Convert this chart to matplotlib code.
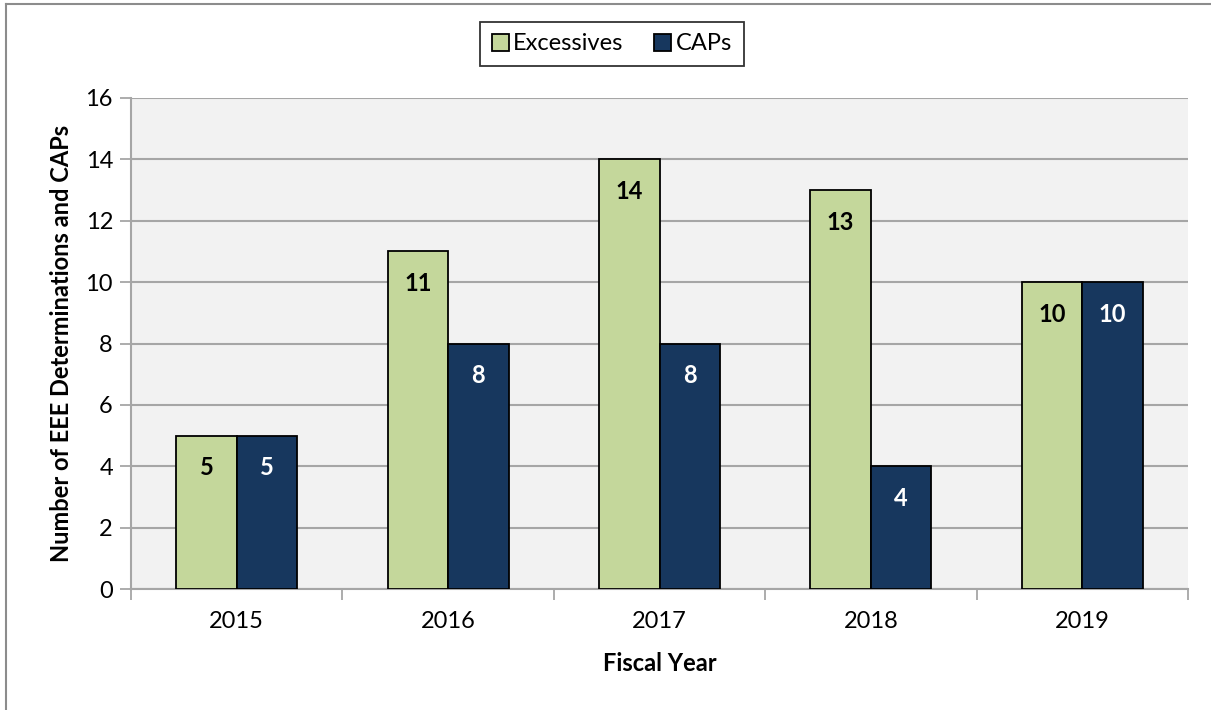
import numpy as np
import matplotlib.pyplot as plt
from matplotlib.lines import Line2D

years = ['2015', '2016', '2017', '2018', '2019']
excessives = [5, 11, 14, 13, 10]
caps = [5, 8, 8, 4, 10]

green = '#c4d79b'
navy = '#17375e'
plt.rcParams['font.family'] = ['Lato', 'DejaVu Sans']

fig = plt.figure(figsize=(12.11, 7.10), dpi=100)
ax = fig.add_axes([131/1211, 1-589/710, (1188-131)/1211, (589-98)/710])
ax.set_facecolor('#f2f2f2')

x = np.arange(len(years))
w = 0.286
b1 = ax.bar(x - w/2, excessives, w, color=green, edgecolor='black', linewidth=1.3, zorder=3, label='Excessives')
b2 = ax.bar(x + w/2, caps, w, color=navy, edgecolor='black', linewidth=1.3, zorder=3, label='CAPs')

for i in range(len(years)):
    ax.annotate(str(excessives[i]), (x[i] - w/2, excessives[i]), xytext=(0, -23), textcoords='offset points',
                ha='center', va='center', fontsize=17, fontweight='bold', color='black', zorder=4)
    ax.annotate(str(caps[i]), (x[i] + w/2, caps[i]), xytext=(0, -23), textcoords='offset points',
                ha='center', va='center', fontsize=17, fontweight='bold', color='white', zorder=4)

ax.set_xlim(-0.5, 4.5)
ax.set_ylim(0, 16)
ax.set_yticks(range(0, 17, 2))
ax.yaxis.grid(True, color='#a6a6a6', linewidth=1.5, zorder=0)
ax.set_xticks(x)
ax.set_xticklabels(years)
ax.set_xticks(np.arange(-0.5, 5, 1), minor=True)
ax.tick_params(axis='x', which='major', length=0, labelsize=17, pad=16)
ax.tick_params(axis='x', which='minor', length=8, width=1.3, color='#a6a6a6', direction='out')
ax.tick_params(axis='y', length=8, width=1.3, color='#a6a6a6', labelsize=17, pad=5)
for s in ['top', 'right']:
    ax.spines[s].set_visible(False)
for s in ['left', 'bottom']:
    ax.spines[s].set_color('#a6a6a6')
    ax.spines[s].set_linewidth(1.5)

ax.set_xlabel('Fiscal Year', fontsize=17, fontweight='bold', labelpad=14)
ax.set_ylabel('Number of EEE Determinations and CAPs', fontsize=17, fontweight='bold', labelpad=9)

leg = fig.legend(handles=[b1, b2], loc='center', bbox_to_anchor=(612/1211, 1-44/710), ncol=2,
                 fontsize=17, frameon=True, fancybox=False, edgecolor='black', handlelength=0.7,
                 handleheight=0.7, handletextpad=0.2, columnspacing=1.3, borderpad=0.5)
leg.get_frame().set_linewidth(1.3)

# outer border of the chart
fig.add_artist(Line2D([6/1211, 6/1211], [0, 1-4/710], color='#8c8c8c', linewidth=1.5))
fig.add_artist(Line2D([6/1211, 1], [1-4/710, 1-4/710], color='#8c8c8c', linewidth=1.5))

fig.savefig('out.png', dpi=100)
